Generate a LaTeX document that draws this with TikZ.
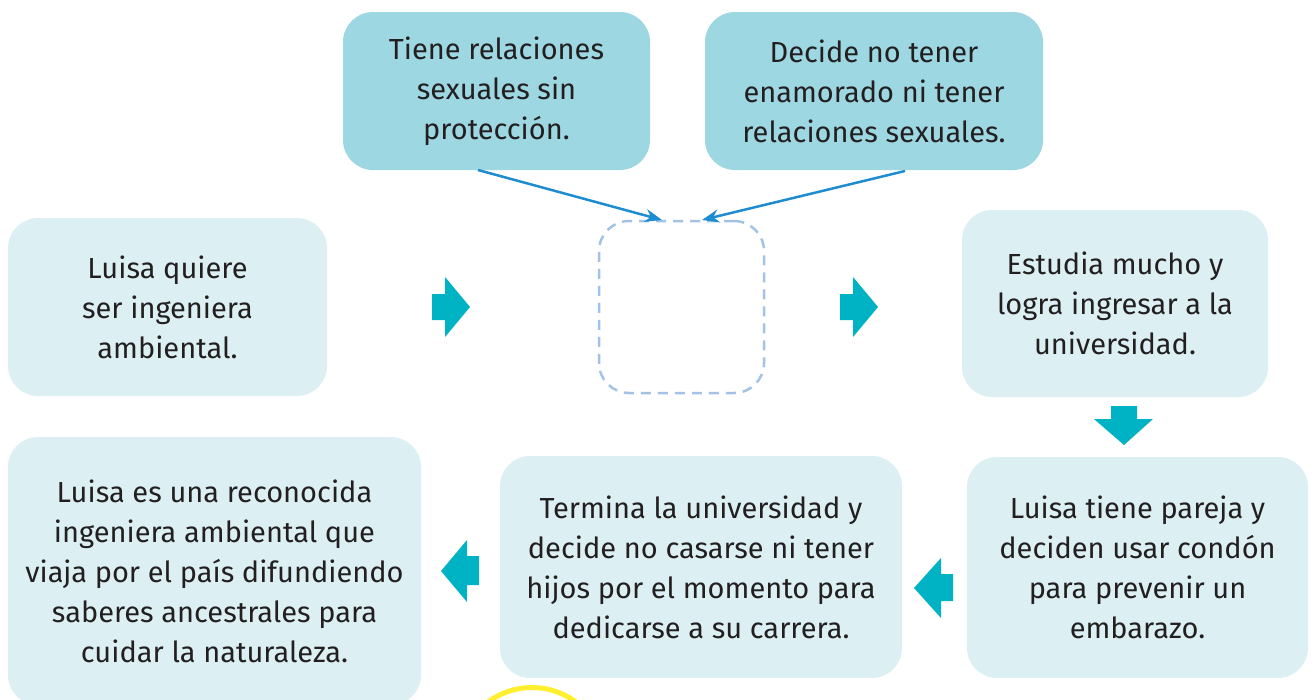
\documentclass[tikz,border=0pt]{standalone}
\usepackage{fontspec}
\setmainfont{Fira Sans}
\usetikzlibrary{arrows.meta,calc}
\definecolor{topfill}{HTML}{9DD7E2}
\definecolor{lightfill}{HTML}{DCF0F4}
\definecolor{txt}{HTML}{231F20}
\definecolor{barrow}{HTML}{00B3C4}
\definecolor{conn}{HTML}{1D8CD0}
\definecolor{dash}{HTML}{A3C3E6}
\definecolor{yel}{HTML}{FFEF2E}
\tikzset{
  box/.style={rectangle, rounded corners=30pt, inner sep=0pt, align=center,
    text=txt, font=\fontsize{29}{40}\selectfont},
  topbox/.style={box, fill=topfill},
  lightbox/.style={box, fill=lightfill},
  emptybox/.style={rectangle, rounded corners=30pt, draw=dash, line width=2.5pt,
    dash pattern=on 10pt off 7pt},
  blockarrow/.style={fill=barrow},
  conarrow/.style={draw=conn, line width=2.5pt, -{Stealth[length=17pt,width=13pt]}}
}
\begin{document}
\begin{tikzpicture}[x=1pt,y=-1pt]
\useasboundingbox (0,0) rectangle (1316,699);
% top boxes
\node[topbox, minimum width=307pt, minimum height=158pt] (t1) at (496.5,91)
  {Tiene relaciones\\sexuales sin\\protección.};
\node[topbox, minimum width=338pt, minimum height=158pt] (t2) at (874,91)
  {Decide no tener\\enamorado ni tener\\relaciones sexuales.};
% middle row
\node[lightbox, minimum width=319pt, minimum height=178pt] (m1) at (167.5,307)
  {Luisa quiere\\ser ingeniera\\ambiental.};
\node[emptybox, minimum width=165pt, minimum height=172pt] (m2) at (681.5,307) {};
\node[lightbox, minimum width=306pt, minimum height=187pt] (m3) at (1115,303.5)
  {Estudia mucho y\\logra ingresar a la\\universidad.};
% bottom row
\node[lightbox, minimum width=341pt, minimum height=221pt] (b3) at (1137.5,567.5)
  {Luisa tiene pareja y\\deciden usar condón\\para prevenir un\\embarazo.};
\node[lightbox, minimum width=402pt, minimum height=222pt] (b2) at (701,567)
  {Termina la universidad y\\decide no casarse ni tener\\hijos por el momento para\\dedicarse a su carrera.};
\node[lightbox, minimum width=413pt, minimum height=268pt] (b1) at (214.5,571)
  {Luisa es una reconocida\\ingeniera ambiental que\\viaja por el país difundiendo\\saberes ancestrales para\\cuidar la naturaleza.};
% connectors from top boxes
\coordinate (s1) at (478,170);
\coordinate (s2) at (905,171);
\coordinate (e1) at (662,220);
\coordinate (e2) at (702,220);
\draw[conarrow] (s1) -- (e1);
\draw[conarrow] (s2) -- (e2);
% block arrows
\fill[blockarrow] (432,294) -- (445,294) -- (445,277) -- (470,307) -- (445,337) -- (445,320) -- (432,320) -- cycle;
\fill[blockarrow] (840,294) -- (853,294) -- (853,277) -- (878,307) -- (853,337) -- (853,320) -- (840,320) -- cycle;
\fill[blockarrow] (1111,406) -- (1137,406) -- (1137,419) -- (1153,419) -- (1124,445) -- (1094,419) -- (1111,419) -- cycle;
\fill[blockarrow] (479,556) -- (467,556) -- (467,540) -- (441,571) -- (467,602) -- (467,585) -- (479,585) -- cycle;
\fill[blockarrow] (953,574) -- (941,574) -- (941,558) -- (914,588) -- (941,618) -- (941,601) -- (953,601) -- cycle;
% yellow circle (partly visible)
\draw[yel, line width=5pt] (532,761) circle (73.5);
\end{tikzpicture}
\end{document}
